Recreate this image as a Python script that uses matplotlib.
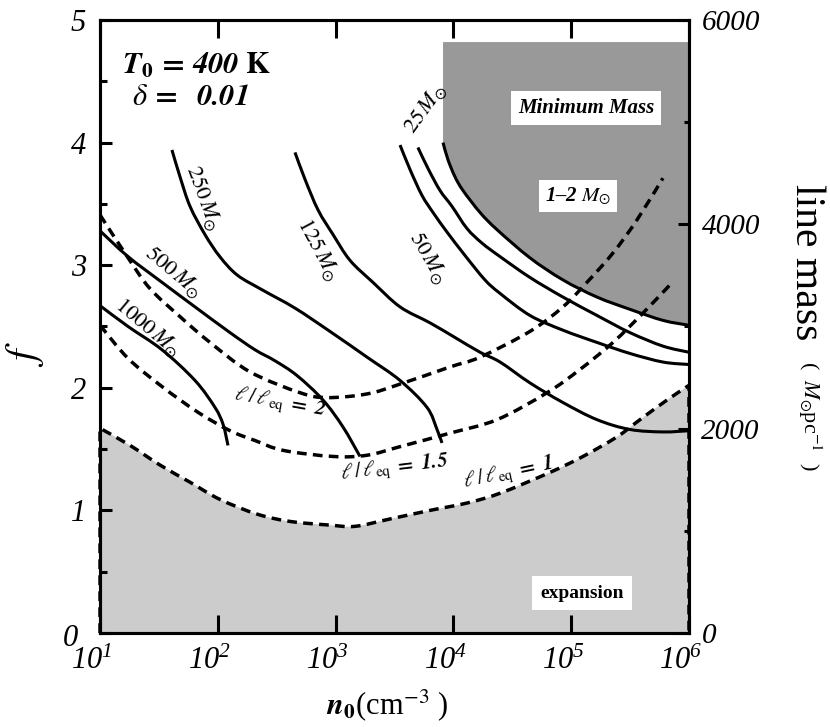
import numpy as np
import matplotlib
matplotlib.use("Agg")
import matplotlib.pyplot as plt
import matplotlib.transforms as mtransforms
from matplotlib.path import Path
from matplotlib.patches import PathPatch
from matplotlib.ticker import FixedLocator, NullLocator, MultipleLocator

plt.rcParams['font.family'] = ['Liberation Serif', 'DejaVu Serif']
plt.rcParams['mathtext.fontset'] = 'stix'
plt.rcParams['lines.scale_dashes'] = False

# ---- data: n0 (cm^-3) and f ----
# solid lines: line-mass contours
m1000_n = [10, 17.3, 33.6, 64, 94.6, 111, 122]
m1000_f = [2.67, 2.50, 2.31, 2.06, 1.84, 1.70, 1.53]

m500_n = [10, 17.3, 33.6, 64, 127, 207, 306, 470, 782, 1156, 1611]
m500_f = [3.28, 3.07, 2.86, 2.66, 2.45, 2.31, 2.22, 2.10, 1.90, 1.68, 1.44]

m250_n = [40.8, 47.8, 58.1, 77.8, 104, 146, 237, 452, 895, 1849, 3524, 5970, 7261, 8000]
m250_f = [3.94, 3.72, 3.48, 3.25, 3.07, 2.92, 2.80, 2.65, 2.46, 2.25, 2.06, 1.84, 1.66, 1.55]

m125_n = [452, 550, 710, 951, 1324, 2075, 3524, 6324, 10330, 16830, 24890, 44670,
          85110, 165600, 315500, 601000, 1e6]
m125_f = [3.92, 3.70, 3.45, 3.25, 3.04, 2.86, 2.66, 2.53, 2.41, 2.29, 2.21, 2.04,
          1.88, 1.74, 1.66, 1.64, 1.65]

m50_n = [3524, 4285, 5408, 6714, 8831, 12530, 18530, 24890, 44670, 85110, 165600,
         315500, 601000, 1e6]
m50_f = [3.98, 3.78, 3.57, 3.43, 3.27, 3.08, 2.88, 2.77, 2.59, 2.47, 2.37, 2.28, 2.21, 2.19]

m25_n = [5000, 6081, 7691, 9727, 13030, 17500, 24890, 44670, 85110, 165600, 315500,
         601000, 1e6]
m25_f = [3.96, 3.79, 3.61, 3.48, 3.30, 3.18, 3.07, 2.90, 2.74, 2.59, 2.45, 2.34, 2.29]

# boundary of the minimum-mass region
mmin_n = [8166, 8995, 10330, 12050, 16830, 23440, 44670, 85110, 165600, 315500, 601000, 1e6]
mmin_f = [4.00, 3.86, 3.72, 3.61, 3.43, 3.29, 3.06, 2.88, 2.74, 2.64, 2.55, 2.51]
minmass_top = 4.82

# dashed lines: l / l_eq
l2_n = [10, 17.3, 26.5, 47.8, 85.9, 187.5, 499, 845, 1849, 3524, 9354, 16830, 44670,
        85110, 136100, 226500, 362200, 601000]
l2_f = [3.41, 3.06, 2.81, 2.58, 2.37, 2.13, 1.96, 1.92, 1.95, 2.03, 2.17, 2.25, 2.46,
        2.66, 2.86, 3.10, 3.37, 3.71]

l15_n = [10, 17.3, 33.6, 67.9, 127, 207, 357, 951, 1849, 3524, 9354, 23440, 62370,
         118900, 226500, 407400, 690200]
l15_f = [2.51, 2.24, 2.01, 1.80, 1.65, 1.57, 1.49, 1.44, 1.45, 1.52, 1.63, 1.74, 1.96,
         2.15, 2.37, 2.61, 2.84]

l1_n = [10, 18, 32.3, 58.1, 104, 215, 410, 895, 1462, 2897, 6324, 13030, 24890, 66070,
        125900, 244900, 383700, 650100, 1e6]
l1_f = [1.67, 1.53, 1.37, 1.23, 1.09, 0.97, 0.91, 0.88, 0.87, 0.93, 1.00, 1.06, 1.14,
        1.31, 1.44, 1.60, 1.74, 1.90, 2.02]

x_ticks = [1e1, 1e2, 1e3, 1e4, 1e5, 1e6]
x_ticklabels = [r'$\mathregular{10^{%d}}$' % k for k in range(1, 7)]
f_ticks = [0, 1, 2, 3, 4, 5]
mass_ticks = [0, 2000, 4000, 6000]
mass_minor = [1000, 3000, 5000]


def smooth(xs, ys):
    """Catmull-Rom curve through the read points, drawn in log(n)-f space."""
    p = np.column_stack([np.log10(xs), ys])
    verts = [p[0]]
    codes = [Path.MOVETO]
    for i in range(len(p) - 1):
        p0 = p[i - 1] if i > 0 else p[i]
        p3 = p[i + 2] if i + 2 < len(p) else p[i + 1]
        verts += [p[i] + (p[i + 1] - p0) / 6, p[i + 1] - (p3 - p[i]) / 6, p[i + 1]]
        codes += [Path.CURVE4] * 3
    verts = np.array(verts)
    verts[:, 0] = 10 ** verts[:, 0]
    return list(map(tuple, verts)), codes


fig = plt.figure(figsize=(8.3, 7.27), dpi=100)
ax = fig.add_axes([0.1205, 0.1293, 0.7096, 0.8432])
ax.set_xscale('log')
ax.set_xlim(10, 1e6)
ax.set_ylim(0, 5)

# regions
v, c = smooth(l1_n, l1_f)
v += [(1e6, 0), (10, 0), (10, 0)]
c += [Path.LINETO, Path.LINETO, Path.CLOSEPOLY]
ax.add_patch(PathPatch(Path(v, c), facecolor='#cccccc', edgecolor='none', zorder=1))

v, c = smooth(mmin_n, mmin_f)
v += [(mmin_n[-1], minmass_top), (mmin_n[0], minmass_top), (mmin_n[0], minmass_top)]
c += [Path.LINETO, Path.LINETO, Path.CLOSEPOLY]
ax.add_patch(PathPatch(Path(v, c), facecolor='#999999', edgecolor='none', zorder=1))

# solid contours
for xs, ys in [(m1000_n, m1000_f), (m500_n, m500_f), (m250_n, m250_f),
               (m125_n, m125_f), (m50_n, m50_f), (m25_n, m25_f), (mmin_n, mmin_f)]:
    v, c = smooth(xs, ys)
    ax.add_patch(PathPatch(Path(v, c), fill=False, edgecolor='k', lw=2.2,
                           capstyle='butt', zorder=3))

# dashed contours
dash = (0, (7, 4.5))
for xs, ys in [(l2_n, l2_f), (l15_n, l15_f)]:
    v, c = smooth(xs, ys)
    ax.add_patch(PathPatch(Path(v, c), fill=False, edgecolor='k', lw=2.5,
                           linestyle=dash, zorder=3))
v, c = smooth(l1_n, l1_f)
v = [(10, 0)] + v + [(1e6, 0)]
c = [Path.MOVETO, Path.LINETO] + c[1:] + [Path.LINETO]
ax.add_patch(PathPatch(Path(v, c), fill=False, edgecolor='k', lw=2.5,
                       linestyle=dash, zorder=3, clip_on=False))

# ticks
ax.xaxis.set_major_locator(FixedLocator(x_ticks))
ax.xaxis.set_minor_locator(NullLocator())
ax.set_xticklabels(x_ticklabels, fontstyle='italic')
ax.tick_params(axis='x', which='major', direction='in', length=13, width=2.2,
               top=True, pad=10, labelsize=22)
offset = mtransforms.ScaledTranslation(-8 / 100, 0, fig.dpi_scale_trans)
for lab in ax.get_xticklabels():
    lab.set_transform(lab.get_transform() + offset)

ax.yaxis.set_major_locator(FixedLocator(f_ticks))
ax.yaxis.set_minor_locator(MultipleLocator(0.5))
ax.set_yticklabels([str(v) for v in f_ticks], fontstyle='italic')
ax.tick_params(axis='y', which='major', direction='in', length=8.6, width=2.2,
               right=False, labelsize=22, pad=10)
ax.tick_params(axis='y', which='minor', direction='in', length=5, width=2.2, right=False)
# the "0" sits a little further left, clear of the 10^1 label
zero_lab = ax.get_yticklabels()[0]
zero_lab.set_transform(zero_lab.get_transform() +
                       mtransforms.ScaledTranslation(-8 / 100, -2 / 100, fig.dpi_scale_trans))

ax2 = ax.twinx()
ax2.set_ylim(0, 6000)
ax2.yaxis.set_major_locator(FixedLocator(mass_ticks))
ax2.yaxis.set_minor_locator(FixedLocator(mass_minor))
ax2.set_yticklabels([str(v) for v in mass_ticks], fontstyle='italic')
ax2.tick_params(axis='y', which='major', direction='in', length=8, width=2.2,
                labelsize=21, pad=9)
ax2.tick_params(axis='y', which='minor', direction='in', length=3.6, width=2.2)

for a in (ax, ax2):
    for sp in a.spines.values():
        sp.set_linewidth(2.2)
        sp.set_zorder(4)

# annotations
tr = ax.transAxes
ax.text(0.163, 0.925, r'$\mathbfit{T}_{\mathbf{0}}\,\mathbf{=}\,\mathbfit{400}\ \mathbf{K}$',
        transform=tr, ha='center', va='center', fontsize=22)
ax.text(0.153, 0.873, r'$\delta\,\mathbf{=}\ \ \mathbfit{0.01}$',
        transform=tr, ha='center', va='center', fontsize=22)

ax.text(0.825, 0.856, 'Minimum Mass', transform=tr, ha='center', va='center',
        fontsize=15, fontweight='bold', fontstyle='italic',
        bbox=dict(facecolor='white', edgecolor='none', pad=5), zorder=5)
ax.text(0.812, 0.713, '1\u20132 $M_{\\odot}$', transform=tr, ha='center', va='center',
        fontsize=15, fontweight='bold', fontstyle='italic',
        bbox=dict(facecolor='white', edgecolor='none', pad=4), zorder=5)
ax.text(0.818, 0.065, 'expansion', transform=tr, ha='center', va='center',
        fontsize=14, fontweight='bold',
        bbox=dict(facecolor='white', edgecolor='none', pad=6), zorder=5)

mass_labels = [
    (r'$250\,M_{\odot}$', 0.175, 0.710, -70),
    (r'$125\,M_{\odot}$', 0.370, 0.625, -62),
    (r'$50\,M_{\odot}$', 0.557, 0.612, -60),
    (r'$25\,M_{\odot}$', 0.552, 0.856, 54),
    (r'$500\,M_{\odot}$', 0.124, 0.589, -40),
    (r'$1000\,M_{\odot}$', 0.081, 0.498, -40),
]
for txt, x, y, rot in mass_labels:
    ax.text(x, y, txt, transform=tr, ha='center', va='center', rotation=rot,
            rotation_mode='anchor', fontsize=16, zorder=5)

ratio_labels = [
    (r'$\ell\,/\,\ell_{\mathrm{eq}}\ \mathbf{=}\ \mathbfit{2}$', 0.306, 0.375, -10),
    (r'$\ell\,/\,\ell_{\mathrm{eq}}\ \mathbf{=}\ \mathbfit{1.5}$', 0.501, 0.269, 7),
    (r'$\ell\,/\,\ell_{\mathrm{eq}}\ \mathbf{=}\ \mathbfit{1}$', 0.693, 0.261, 12),
]
for txt, x, y, rot in ratio_labels:
    ax.text(x, y, txt, transform=tr, ha='center', va='center', rotation=rot,
            rotation_mode='anchor', fontsize=15, zorder=5)

# axis titles
fig.text(0.030, 0.513, r'$f$', rotation=90, ha='center', va='center', fontsize=30)
fig.text(0.467, 0.030, r'$\mathbfit{n}_{\mathbf{0}}$(cm$^{-3}$ )', ha='center',
         va='center', fontsize=22)
fig.text(0.971, 0.640, 'line mass', rotation=-90, ha='center', va='center', fontsize=30)
fig.text(0.975, 0.428, r'(  $M_{\odot}$pc$^{-1}$  )', rotation=-90, ha='center',
         va='center', fontsize=16)

fig.savefig('out.png', dpi=100)
